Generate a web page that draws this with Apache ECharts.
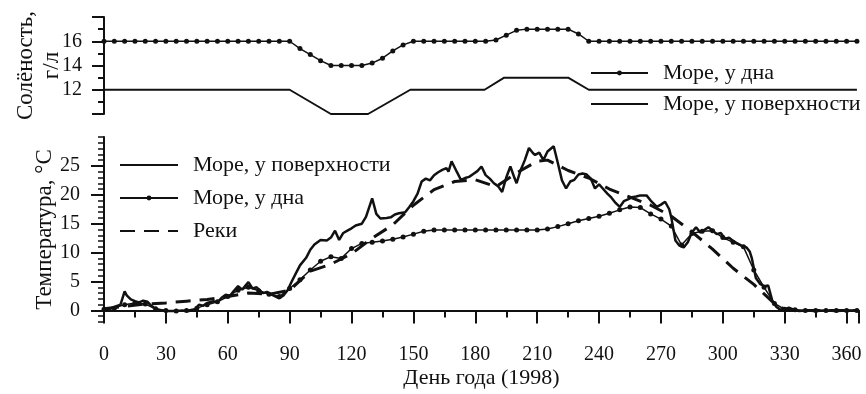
<!DOCTYPE html>
<html>
<head>
<meta charset="utf-8">
<script src="https://cdn.jsdelivr.net/npm/echarts@6/dist/echarts.min.js"></script>
<style>
  html, body { margin: 0; background: #fff; }
  #chart { width: 866px; height: 394px; }
</style>
</head>
<body>
<div id="chart"></div>
<script>
// солёность, г/л: у дна (точки каждые 5 дней, дни 0..365)
var salBottom = [
  16, 16, 16, 16, 16, 16, 16, 16, 16, 16, 16, 16, 16, 16, 16, 16, 16, 16, 16,
  15.4, 14.9, 14.4, 14, 14, 14, 14, 14.2, 14.6, 15.2, 15.7,
  16, 16, 16, 16, 16, 16, 16, 16,
  16.1, 16.5, 16.9,
  17, 17, 17, 17, 17,
  16.6,
  16, 16, 16, 16, 16, 16, 16, 16, 16, 16, 16, 16, 16, 16, 16, 16, 16, 16, 16, 16, 16, 16, 16, 16, 16, 16, 16
]
// солёность у поверхности: [день, г/л]
var salSurface = [[0, 12], [90, 12], [110, 10], [128, 10], [148.5, 12], [184.5, 12], [194, 13], [225, 13], [235, 12], [365, 12]]

// температура у дна (каждые 5 дней)
var tempBottom = [
  0.2, 0.4, 1.0, 1.3, 1.1, 0.3, 0.0, -0.1, 0.0, 0.4,
  1.0, 1.5, 2.4, 3.5, 4.0, 3.4, 2.8, 2.4, 3.8, 5.3,
  7.0, 8.5, 9.3, 9.0, 10.7, 11.6, 11.8, 12.0, 12.3, 12.7,
  13.2, 13.7, 13.9, 13.9, 13.9, 13.9, 13.9, 13.9, 13.9, 13.9,
  13.9, 13.9, 13.9, 14.1, 14.5, 15.0, 15.5, 15.9, 16.3, 16.8,
  17.4, 17.9, 17.8, 16.7, 15.8, 14.6, 11.3, 13.3, 13.7, 13.8,
  12.6, 11.8, 11.0, 7.0, 4.0, 1.2, 0.2, 0.1, 0.0, 0.0,
  0.0, 0.0, 0.0, 0.0
]
// температура у поверхности: [день, °C]
var tempSurface = [
  [0, 0.1], [3, 0.3], [5, 0.6], [8, 1.0], [10, 3.3], [11, 2.6], [13, 1.9], [15, 1.6], [17, 1.4], [19, 1.7],
  [21, 1.5], [23, 0.8], [25, 0.2], [28, 0.0], [31, -0.1], [35, -0.1], [38, 0.0], [41, -0.1], [44, 0.1], [46, 1.0],
  [48, 0.8], [50, 1.3], [53, 1.6], [55, 1.4], [57, 2.2], [59, 2.7], [61, 2.5], [63, 3.4], [65, 4.2], [67, 3.6],
  [70, 4.9], [72, 3.8], [74, 4.0], [77, 3.0], [79, 3.2], [82, 2.6], [85, 2.1], [87, 2.6], [89, 3.5], [91, 5.0],
  [93, 6.4], [95, 7.8], [98, 9.1], [100, 10.5], [102, 11.4], [105, 12.2], [108, 12.1], [110, 12.6], [112, 13.8], [114, 12.2],
  [116, 13.4], [118, 13.8], [120, 14.2], [122, 14.7], [125, 15.0], [127, 16.2], [130, 19.4], [132, 16.7], [134, 15.9], [137, 16.0],
  [139, 16.1], [141, 16.6], [143, 16.8], [146, 17.0], [148, 17.9], [150, 18.9], [152, 20.2], [154, 22.3], [156, 22.8], [158, 22.5],
  [160, 23.4], [162, 23.9], [164, 24.3], [166, 24.6], [167, 24.0], [168.5, 25.8], [171, 24.0], [173, 22.6], [175, 22.9], [177, 23.1],
  [179, 23.6], [181, 24.1], [183, 24.9], [185, 23.4], [187, 22.8], [189, 22.0], [191, 21.5], [193, 20.5], [195, 23.0], [197, 24.9],
  [199, 22.9], [200, 22.0], [202, 24.3], [204, 26.0], [206, 28.1], [208, 27.2], [209, 26.9], [211, 27.3], [213, 26.0], [215, 27.5],
  [218, 28.4], [220, 25.5], [222, 22.5], [224, 21.1], [226, 22.3], [228, 22.6], [230, 23.5], [232, 23.7], [234, 23.5], [236, 22.8],
  [238, 21.1], [240, 21.8], [242, 21.0], [244, 20.2], [246, 19.5], [248, 18.6], [250, 17.9], [252, 18.9], [254, 19.2], [256, 19.6],
  [258, 19.7], [260, 19.9], [263, 19.9], [265, 19.0], [268, 17.9], [270, 18.3], [272, 18.8], [274, 17.5], [275, 16.1], [277, 12.1],
  [279, 11.2], [281, 10.9], [283, 11.8], [285, 13.5], [287, 14.4], [289, 13.5], [291, 13.9], [293, 14.4], [295, 13.8], [297, 13.2],
  [299, 13.4], [301, 12.4], [303, 12.6], [305, 12.0], [307, 11.6], [309, 11.2], [311.5, 10.9], [313, 10.2], [314, 9.1], [316, 5.6],
  [318, 4.6], [320, 4.2], [322, 4.3], [324, 1.6], [326, 0.6], [328, 0.1], [330, 0.2], [332, 0.5], [334, 0.2], [337, -0.1],
  [340, 0.0], [345, -0.1], [350, 0.0], [355, -0.1], [360, 0.0], [364, 0.0]
]
// реки: [день, °C]
var tempRivers = [
  [0, 0.3], [10, 0.7], [20, 1.1], [30, 1.3], [40, 1.6], [50, 1.9], [60, 2.4], [70, 3.0], [80, 2.8], [90, 3.5],
  [100, 6.8], [110, 8.0], [120, 9.8], [130, 12.5], [140, 14.8], [150, 18.2], [160, 20.9], [170, 22.3], [180, 22.6], [190, 21.4],
  [200, 23.8], [210, 25.8], [215, 26.0], [225, 24.2], [235, 22.9], [245, 21.0], [255, 19.6], [265, 18.2], [275, 16.3], [285, 13.6],
  [295, 10.6], [305, 7.3], [315, 4.5], [325, 1.2], [330, 0.2], [340, 0.0], [365, 0.0]
]

var xTicks = [0, 30, 60, 90, 120, 150, 180, 210, 240, 270, 300, 330, 360]
var tempTicks = [0, 5, 10, 15, 20, 25]
var salTicks = [12, 14, 16]

var days5 = []
for (var d = 0; d <= 365; d += 5) days5.push(d)
function withDays(vals) {
  return vals.map(function(v, i) { return [days5[i], v] })
}

var INK = '#111'
var FONT = 'Liberation Serif'
var tickTxt = { fontFamily: FONT, fontSize: 20, color: INK }
var txt = { fontFamily: FONT, fontSize: 22, color: INK }
var noSymbol = { opacity: 0 }

var chart = echarts.init(document.getElementById('chart'))
var option = {
  backgroundColor: '#fff',
  animation: false,
  grid: [
    { left: 104, width: 755, top: 17, height: 97 },
    { left: 104, width: 755, top: 137, height: 185 }
  ],
  legend: [
    {
      data: [
        { name: 'Море, у дна' },
        { name: 'Море, у поверхности', itemStyle: noSymbol }
      ],
      orient: 'vertical', left: 585, top: 57, itemWidth: 57, itemHeight: 6, itemGap: 9,
      textStyle: Object.assign({ lineHeight: 22, padding: [0, 0, 0, 10] }, txt),
      selectedMode: false
    },
    {
      data: [
        { name: 'Море, у поверхности', itemStyle: noSymbol },
        { name: 'Море, у дна' },
        { name: 'Реки', itemStyle: noSymbol }
      ],
      orient: 'vertical', left: 114, top: 149, itemWidth: 58, itemHeight: 6, itemGap: 11,
      textStyle: Object.assign({ lineHeight: 22, padding: [0, 0, 0, 10] }, txt),
      selectedMode: false
    }
  ],
  xAxis: [
    { gridIndex: 0, type: 'value', min: 0, max: 366, show: false },
    {
      gridIndex: 1, type: 'value', min: 0, max: 366, interval: 30,
      axisLine: { lineStyle: { color: INK, width: 2 } },
      axisTick: { length: 13, lineStyle: { color: INK, width: 2 } },
      minorTick: { show: true, splitNumber: 2, length: 7, lineStyle: { color: INK, width: 2 } },
      splitLine: { show: false },
      axisLabel: Object.assign({ margin: 23, formatter: function(v) { return xTicks.indexOf(v) >= 0 ? v : '' } }, tickTxt),
      name: 'День года (1998)', nameLocation: 'middle', nameGap: 45, nameTextStyle: txt
    }
  ],
  yAxis: [
    {
      gridIndex: 0, type: 'value', min: 10, max: 18, interval: 2,
      axisLine: { show: true, lineStyle: { color: INK, width: 2 } },
      axisTick: { show: true, length: 12, lineStyle: { color: INK, width: 2 } },
      minorTick: { show: true, splitNumber: 2, length: 6, lineStyle: { color: INK, width: 2 } },
      splitLine: { show: false },
      axisLabel: Object.assign({ margin: 22, formatter: function(v) { return salTicks.indexOf(v) >= 0 ? v : '' } }, tickTxt),
      name: 'Солёность,\nг/л', nameLocation: 'middle', nameRotate: 90, nameGap: 39, nameMoveOverlap: false,
      nameTextStyle: Object.assign({}, txt, { fontSize: 23, lineHeight: 26 })
    },
    {
      gridIndex: 1, type: 'value', min: -2, max: 30, interval: 1, position: 'left',
      axisLine: { show: true, lineStyle: { color: INK, width: 2 } },
      axisTick: { show: true, length: 6, lineStyle: { color: INK, width: 1.5 } },
      splitLine: { show: false },
      axisLabel: Object.assign({ margin: 24, formatter: function(v) { return tempTicks.indexOf(v) >= 0 ? v : '' } }, tickTxt),
      name: 'Температура, °C', nameLocation: 'middle', nameRotate: 90, nameGap: 48, nameMoveOverlap: false,
      nameTextStyle: Object.assign({}, txt, { fontSize: 23 })
    },
    {
      gridIndex: 1, type: 'value', min: -2, max: 30, position: 'left', offset: 0,
      axisLine: { show: false },
      axisTick: { show: true, length: 13, customValues: tempTicks, lineStyle: { color: INK, width: 2 } },
      axisLabel: { show: false },
      splitLine: { show: false }
    }
  ],
  series: [
    {
      name: 'Море, у дна', type: 'line', xAxisIndex: 0, yAxisIndex: 0,
      data: withDays(salBottom), symbol: 'circle', symbolSize: 5, showAllSymbol: true,
      lineStyle: { color: INK, width: 1.5 }, itemStyle: { color: INK }
    },
    {
      name: 'Море, у поверхности', type: 'line', xAxisIndex: 0, yAxisIndex: 0, clip: false,
      data: salSurface, showSymbol: false,
      lineStyle: { color: INK, width: 2 }, itemStyle: { color: INK }
    },
    {
      name: 'Море, у поверхности', type: 'line', xAxisIndex: 1, yAxisIndex: 1,
      data: tempSurface, showSymbol: false,
      lineStyle: { color: INK, width: 2.5 }, itemStyle: { color: INK }
    },
    {
      name: 'Море, у дна', type: 'line', xAxisIndex: 1, yAxisIndex: 1,
      data: withDays(tempBottom), symbol: 'circle', symbolSize: 5, showAllSymbol: true,
      lineStyle: { color: INK, width: 1.5 }, itemStyle: { color: INK }
    },
    {
      name: 'Реки', type: 'line', xAxisIndex: 1, yAxisIndex: 1,
      data: tempRivers, showSymbol: false,
      lineStyle: { color: INK, width: 3, type: [15, 9] }, itemStyle: { color: INK }
    }
  ]
}
chart.setOption(option)
window.addEventListener('resize', function() {
  chart.resize()
})
</script>
</body>
</html>
